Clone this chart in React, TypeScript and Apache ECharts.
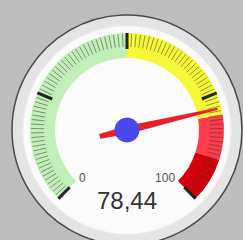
import React, { useEffect, useRef } from "react";
import * as echarts from "echarts";

const gaugeMin = 0;
const gaugeMax = 100;
const gaugeValue = 78.44;
const bandStops = [0.5, 0.8, 0.9, 1.0];
const bandColors = ["#c2efb9", "#f7f73a", "#ff3b4c", "#d6000c"];
const shownLabels = [0, 100];

export default function App() {
  const ref = useRef<HTMLDivElement>(null);
  useEffect(() => {
    if (!ref.current) return;
    const chart = echarts.init(ref.current, null, { renderer: "svg" });
    const cx = 127;
    const cy = 130;
    chart.setOption({
      animation: false,
      backgroundColor: "#bebebe",
      graphic: [
        {
          type: "circle",
          z: -10,
          shape: { cx, cy, r: 115 },
          style: { fill: "#e4e4e4", stroke: "#4a4a4a", lineWidth: 1.5 },
        },
        {
          type: "circle",
          z: -9,
          shape: { cx, cy, r: 104 },
          style: { fill: "#fbfbfb", stroke: "#f0f0f0", lineWidth: 1 },
        },
      ],
      series: [
        {
          type: "gauge",
          center: [cx, cy],
          radius: 97,
          min: gaugeMin,
          max: gaugeMax,
          startAngle: 225,
          endAngle: -45,
          splitNumber: 4,
          axisLine: {
            lineStyle: {
              width: 25,
              color: bandStops.map((s, i) => [s, bandColors[i]]),
            },
          },
          axisTick: {
            show: true,
            splitNumber: 25,
            distance: -24,
            length: 13,
            lineStyle: { color: "#2a3a20", width: 1, opacity: 0.5 },
          },
          splitLine: {
            show: true,
            distance: -25,
            length: 16,
            lineStyle: { color: "#222", width: 3 },
          },
          axisLabel: {
            distance: 38,
            color: "#555",
            fontSize: 12,
            fontFamily: "Liberation Sans, Arial, sans-serif",
            formatter: (v: number) => (shownLabels.includes(Math.round(v)) ? String(Math.round(v)) : ""),
          },
          pointer: {
            show: true,
            icon: "path://M4,0 L5,0 L8,93 L6.5,121 L1.5,121 L0,93 L3,0 Z",
            length: 121,
            width: 8,
            offsetCenter: [0, 28],
            itemStyle: { color: "#e8202a" },
          },
          anchor: {
            show: true,
            showAbove: true,
            size: 25,
            itemStyle: { color: "#4848ec" },
          },
          title: { show: false },
          detail: {
            show: true,
            offsetCenter: [0, 70],
            fontSize: 24,
            color: "#333",
            fontWeight: "normal",
            fontFamily: "Liberation Sans, Arial, sans-serif",
            formatter: (v: number) => v.toFixed(2).replace(".", ","),
          },
          data: [{ value: gaugeValue }],
        },
      ],
    });
    return () => chart.dispose();
  }, []);
  return (
    <div
      ref={ref}
      style={{ position: "fixed", left: 0, top: 0, width: 243, height: 240 }}
    />
  );
}
